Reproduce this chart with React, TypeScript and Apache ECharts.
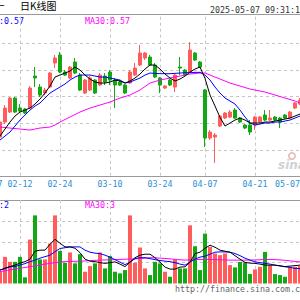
import React, { useEffect, useRef } from 'react';
import * as echarts from 'echarts';

// Trading days (first two only carry the left, off-screen label / line start)
const dates = ['01-27','02-05','02-06','02-07','02-10','02-11','02-12','02-13','02-14','02-17','02-18','02-19','02-20','02-21','02-24','02-25','02-26','02-27','02-28','03-03','03-04','03-05','03-06','03-07','03-10','03-11','03-12','03-13','03-14','03-17','03-18','03-19','03-20','03-21','03-24','03-25','03-26','03-27','03-28','03-31','04-01','04-02','04-03','04-07','04-08','04-09','04-10','04-11','04-14','04-15','04-16','04-17','04-18','04-21','04-22','04-23','04-24','04-25','04-28','04-29','04-30','05-06','05-07'];

const tickDates = ['01-27','02-12','02-24','03-10','03-24','04-07','04-21','05-07'];

// [open, close, low, high]
const kline: (number[] | null)[] = [
  null, null,
  [0.5639,0.5684,0.563,0.569],[0.5684,0.5726,0.5678,0.5735],[0.5714,0.5756,0.5711,0.5759],[0.5756,0.5714,0.5711,0.5759],
  [0.5726,0.5717,0.5711,0.5738],[0.5723,0.5711,0.5708,0.5726],[0.5726,0.5786,0.5723,0.5792],[0.5822,0.5816,0.5789,0.5849],
  [0.5789,0.5765,0.5759,0.5798],[0.5771,0.578,0.5765,0.5786],[0.5789,0.5831,0.5786,0.5834],[0.5861,0.5876,0.5846,0.5885],
  [0.5885,0.5834,0.5831,0.5894],[0.5834,0.5825,0.5822,0.584],[0.5816,0.5849,0.5813,0.5852],[0.5864,0.5831,0.5828,0.5876],
  [0.5825,0.578,0.5777,0.5831],[0.5771,0.581,0.5768,0.5813],[0.578,0.5816,0.5777,0.5822],[0.581,0.5771,0.5768,0.5813],
  [0.5795,0.5825,0.5792,0.5831],[0.5822,0.5804,0.5795,0.5831],[0.5834,0.581,0.5795,0.584],[0.581,0.5795,0.5726,0.5816],
  [0.5804,0.5795,0.5792,0.581],[0.5795,0.5771,0.5768,0.5798],[0.5801,0.5834,0.5798,0.584],[0.5825,0.5846,0.5822,0.5861],
  [0.5855,0.5891,0.5852,0.5915],[0.5876,0.5891,0.587,0.5894],[0.5879,0.5855,0.5852,0.5885],[0.5855,0.5819,0.5816,0.5861],
  [0.5816,0.5795,0.5771,0.5819],[0.5786,0.5792,0.5783,0.5795],[0.581,0.5795,0.5792,0.5813],[0.5789,0.5825,0.5774,0.5828],
  [0.5849,0.5846,0.5825,0.5879],[0.584,0.5825,0.5822,0.5843],[0.5834,0.59,0.5831,0.5924],[0.5891,0.587,0.5867,0.5894],
  [0.5864,0.5849,0.5846,0.5867],[0.578,0.5636,0.5609,0.5783],[0.5636,0.5654,0.563,0.566],[0.5639,0.5645,0.5561,0.5651],
  [0.5672,0.5702,0.5669,0.5705],[0.5696,0.5711,0.5693,0.5714],[0.5699,0.5714,0.5696,0.572],[0.572,0.5696,0.5693,0.5726],
  [0.5696,0.5684,0.5681,0.5699],[0.5675,0.5666,0.5663,0.5678],[0.5675,0.5654,0.5645,0.569],[0.5675,0.5699,0.566,0.5702],
  [0.5684,0.5699,0.5681,0.5702],[0.5705,0.569,0.5687,0.572],[0.569,0.5696,0.5687,0.572],[0.5699,0.569,0.5687,0.5702],
  [0.5696,0.5684,0.5666,0.5699],[0.5705,0.5696,0.5693,0.5708],[0.5696,0.5714,0.5693,0.5717],[0.5726,0.5741,0.5723,0.5744],
  [0.5738,0.575,0.5735,0.5756],
];

const priceMA5: (number | null)[] = [null,0.5624,
  0.5642,0.5663,0.5684,0.5702,0.5714,0.572,0.5726,0.5738,0.5753,0.5771,
  0.5792,0.5819,0.5825,0.5831,0.5837,0.5849,0.584,0.5825,0.5813,0.5804,
  0.5801,0.5801,0.5804,0.581,0.5807,0.5801,0.5807,0.5816,0.5828,0.5843,
  0.5855,0.5855,0.5843,0.5828,0.5816,0.5807,0.5813,0.5822,0.5834,0.5843,
  0.5849,0.5815,0.5765,0.5732,0.5698,0.5672,0.5681,0.569,0.5696,0.569,
  0.5681,0.5681,0.5681,0.5684,0.5684,0.5687,0.569,0.5693,0.5696,0.5702,
  0.5708];

const priceMA10: (number | null)[] = [null,0.5621,
  0.563,0.5642,0.5654,0.5672,0.569,0.5705,0.572,0.5732,0.5741,0.5756,
  0.5771,0.578,0.5789,0.5798,0.581,0.5819,0.5825,0.5825,0.5825,0.5822,
  0.5819,0.5819,0.5816,0.5813,0.581,0.5801,0.5804,0.581,0.5816,0.5825,
  0.5831,0.583,0.5829,0.5829,0.5829,0.583,0.5831,0.5832,0.5832,0.5833,
  0.5833,0.5825,0.581,0.5789,0.5771,0.5756,0.5747,0.5738,0.572,0.5699,
  0.5681,0.5675,0.5678,0.5681,0.5681,0.5684,0.5684,0.5687,0.569,0.5696,
  0.5702];

const priceMA30: (number | null)[] = [null,0.56705,
  0.5669,0.56675,0.5666,0.56645,0.5663,0.56615,0.566,0.5663,0.5666,0.56675,
  0.5669,0.5675,0.5684,0.56915,0.5699,0.57065,0.5714,0.572,0.5726,0.57305,
  0.5735,0.57395,0.5744,0.575,0.5756,0.57605,0.5765,0.57725,0.578,0.57905,
  0.5801,0.58055,0.581,0.5813,0.5816,0.5819,0.5822,0.5825,0.5828,0.58295,
  0.5831,0.5831,0.5825,0.5819,0.5813,0.5807,0.5801,0.57965,0.5792,0.57875,
  0.5783,0.578,0.5777,0.5774,0.57695,0.5765,0.57605,0.5756,0.57515,0.5747,
  0.5741];

const volume: (number | null)[] = [null,null,
  1.69,3.83,3.11,3.11,3.83,0.89,6.31,9.79,3.46,3.46,
  5.74,9.79,4.69,2.97,4.46,2.89,4.21,1.69,2.5,2.89,
  4.46,2.17,3.93,1.69,1.46,1.93,9.79,2.97,5.17,2.17,
  1.21,3.11,2.89,1.69,0.97,3.46,2.17,2.17,8.36,5.36,
  1.93,7.17,5.26,4.31,4.07,4.31,2.64,2.31,3.11,2.97,
  1.36,2.03,2.4,4.54,2.64,1.36,1.21,0.97,2.4,2.4,
  2.5];

const volMA5: (number | null)[] = [null,1.8,
  1.93,2.21,2.43,2.64,2.93,3.14,3.5,4.64,4.79,4.79,
  5.64,6.36,5.79,5.26,5.26,5.07,4.43,3.5,3.21,3.14,
  3.0,2.89,3.0,3.11,2.79,2.43,3.07,3.71,4.07,4.21,
  4.21,3.71,3.07,2.36,2.07,2.07,2.36,2.4,3.07,4.29,
  4.5,5.07,5.5,5.21,4.79,4.64,4.5,4.0,3.5,3.03,
  2.93,2.89,2.79,2.64,2.64,2.64,2.54,2.43,2.5,2.57,
  2.64];

const volMA10: (number | null)[] = [null,1.75,
  1.93,2.14,2.4,2.46,2.64,2.86,3.14,3.36,3.64,3.86,
  4.07,4.57,5.03,5.14,5.26,5.26,5.26,4.79,4.5,4.36,
  4.29,4.07,3.79,3.43,3.07,2.71,3.07,3.57,3.71,3.71,
  3.57,3.43,3.31,3.21,3.14,3.0,2.79,2.64,3.07,3.5,
  3.79,3.93,4.21,4.5,4.54,4.54,4.5,4.31,4.0,3.64,
  3.36,3.11,3.0,2.89,2.79,2.64,2.53,2.4,2.31,2.17,
  2.14];

const volMA30: (number | null)[] = [null,1.6,
  1.71,1.83,1.96,2.07,2.19,2.3,2.43,2.54,2.67,2.79,
  2.89,3.0,3.11,3.14,3.16,3.19,3.21,3.24,3.29,3.33,
  3.36,3.39,3.4,3.43,3.46,3.49,3.51,3.54,3.59,3.64,
  3.71,3.69,3.64,3.6,3.54,3.47,3.41,3.36,3.4,3.44,
  3.46,3.46,3.46,3.43,3.4,3.39,3.36,3.36,3.36,3.36,
  3.36,3.39,3.41,3.44,3.46,3.43,3.39,3.33,3.26,3.17,
  3.11];

const RED = '#ff5c5c';
const GREEN = '#13a813';
const BLUE = '#0000ff';
const MAGENTA = '#ff00ff';
const GRID = '#c6c6c6';
const BORDER = '#9a9a9a';
const LABEL = '#2b8fd6';
const MONO = '"DejaVu Sans Mono", "Liberation Mono", monospace';

const dash = (a: (number | null)[]) => a.map((v) => (v == null ? '-' : v));
const showTick = (_i: number, v: string) => tickDates.includes(v);

export default function App() {
  const ref = useRef<HTMLDivElement>(null);
  useEffect(() => {
    if (!ref.current) return;
    const chart = echarts.init(ref.current, null, { renderer: 'svg' });
    const kData = kline.map((k) => (k ? k : ['-', '-', '-', '-']));
    const volData = volume.map((v, i) => {
      const k = kline[i];
      if (v == null || !k) return '-';
      return { value: v, itemStyle: { color: k[1] >= k[0] ? RED : GREEN } };
    });
    const splitX = { show: true, interval: showTick, lineStyle: { color: GRID, type: [3, 3], width: 1 } };
    const splitY = { show: true, showMinLine: false, showMaxLine: false, lineStyle: { color: GRID, type: [3, 3], width: 1 } };
    const lineS = (data: (number | null)[], color: string, xi: number) => ({
      type: 'line', data: dash(data), xAxisIndex: xi, yAxisIndex: xi,
      showSymbol: false, symbol: 'none', silent: true, z: 4,
      lineStyle: { width: 1, color },
    });
    const monoText = (text: string, x: number, y: number, fill: string) => ({
      type: 'text', x, y, silent: true,
      style: { text, fill, font: `8.3px ${MONO}`, verticalAlign: 'middle', align: 'left' },
    });
    chart.setOption({
      animation: false,
      backgroundColor: '#ffffff',
      grid: [
        { left: -10, width: 310, top: 16.7, height: 160, outerBoundsMode: 'none', containLabel: false },
        { left: -10, width: 310, top: 200, height: 83.5, outerBoundsMode: 'none', containLabel: false },
      ],
      xAxis: [
        {
          type: 'category', gridIndex: 0, data: dates, boundaryGap: false,
          axisLine: { show: false }, axisTick: { show: false },
          axisLabel: { show: true, interval: showTick, color: LABEL, fontFamily: MONO, fontSize: 8.3, margin: 3, alignMaxLabel: 'right' },
          splitLine: splitX,
        },
        {
          type: 'category', gridIndex: 1, data: dates, boundaryGap: false,
          axisLine: { show: false }, axisTick: { show: false }, axisLabel: { show: false },
          splitLine: splitX,
        },
      ],
      yAxis: [
        { type: 'value', gridIndex: 0, min: 0.552, max: 0.6, interval: 0.008, scale: true,
          axisLabel: { show: false }, axisLine: { show: false }, axisTick: { show: false }, splitLine: splitY },
        { type: 'value', gridIndex: 1, min: 0, max: 12, interval: 3,
          axisLabel: { show: false }, axisLine: { show: false }, axisTick: { show: false }, splitLine: splitY },
      ],
      series: [
        {
          type: 'candlestick', xAxisIndex: 0, yAxisIndex: 0, data: kData, barWidth: 3,
          itemStyle: { color: RED, color0: GREEN, borderColor: RED, borderColor0: GREEN, borderWidth: 1 },
        },
        lineS(priceMA30, MAGENTA, 0),
        lineS(priceMA10, BLUE, 0),
        lineS(priceMA5, '#000000', 0),
        { type: 'bar', xAxisIndex: 1, yAxisIndex: 1, data: volData, barWidth: 4 },
        lineS(volMA30, MAGENTA, 1),
        lineS(volMA10, BLUE, 1),
        lineS(volMA5, '#000000', 1),
      ],
      graphic: [
        { type: 'line', silent: true, shape: { x1: 0, y1: 14.5, x2: 300, y2: 14.5 }, style: { stroke: BORDER, lineWidth: 1 } },
        { type: 'line', silent: true, shape: { x1: 0, y1: 176.5, x2: 300, y2: 176.5 }, style: { stroke: BORDER, lineWidth: 1 } },
        { type: 'line', silent: true, shape: { x1: 0, y1: 200.5, x2: 300, y2: 200.5 }, style: { stroke: BORDER, lineWidth: 1 } },
        { type: 'text', x: -5.5, y: 5, silent: true, style: { text: '一', fill: '#000', font: '10px "Noto Sans CJK SC"', verticalAlign: 'middle' } },
        { type: 'text', x: 20, y: 5, silent: true, style: { text: '日K线图', fill: '#000', font: '10px "Noto Sans CJK SC"', verticalAlign: 'middle' } },
        monoText('2025-05-07 09:31:18', 210, 10, '#333333'),
        monoText('MA10:0.57', -21, 20.5, BLUE),
        monoText('MA30:0.57', 85, 20.5, MAGENTA),
        monoText('MA10:2', -21, 205, BLUE),
        monoText('MA30:3', 85, 205, MAGENTA),
        monoText('http://finance.sina.com.cn', 175, 288.5, '#666666'),
        { type: 'ring', silent: true, shape: { cx: 292, cy: 156, r: 4, r0: 2.4 }, style: { fill: '#e9b8b8' } },
        { type: 'text', x: 278, y: 165, silent: true, style: { text: 'sina', fill: '#d2d2d2', font: 'italic bold 12px "DejaVu Sans"', verticalAlign: 'middle' } },
      ],
    });
    return () => chart.dispose();
  }, []);
  return <div ref={ref} style={{ position: 'fixed', left: 0, top: 0, width: 300, height: 300 }} />;
}
